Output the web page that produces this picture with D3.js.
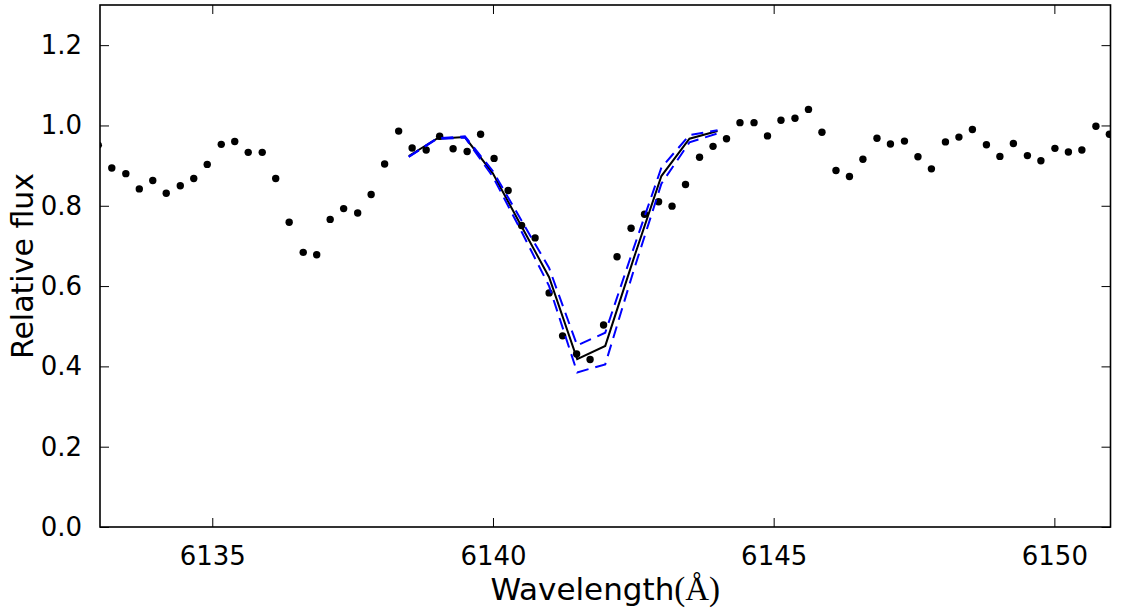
<!DOCTYPE html>
<html>
<head>
<meta charset="utf-8">
<script src="https://cdn.jsdelivr.net/npm/d3@7"></script>
<style>
  body { margin: 0; background: #fff; }
  svg { display: block; font-family: "DejaVu Sans", sans-serif; }
</style>
</head>
<body>
<svg id="chart"></svg>
<script>
// observed spectrum (dots)
const obsWave = [
  6132.97, 6133.21, 6133.46, 6133.70, 6133.94, 6134.18, 6134.43, 6134.67, 6134.91, 6135.16,
  6135.40, 6135.64, 6135.89, 6136.13, 6136.37, 6136.62, 6136.86, 6137.10, 6137.34, 6137.59,
  6137.83, 6138.07, 6138.32, 6138.56, 6138.81, 6139.05, 6139.29, 6139.54, 6139.78, 6140.02,
  6140.27, 6140.51, 6140.75, 6141.00, 6141.24, 6141.49, 6141.73, 6141.97, 6142.21, 6142.46,
  6142.70, 6142.95, 6143.19, 6143.43, 6143.68, 6143.92, 6144.16, 6144.40, 6144.65, 6144.89,
  6145.13, 6145.38, 6145.62, 6145.86, 6146.11, 6146.35, 6146.59, 6146.84, 6147.08, 6147.33,
  6147.57, 6147.81, 6148.06, 6148.30, 6148.54, 6148.79, 6149.03, 6149.27, 6149.52, 6149.76,
  6150.01, 6150.25, 6150.49, 6150.74, 6150.98
];
const obsFlux = [
  0.951, 0.894, 0.880, 0.842, 0.863, 0.831, 0.850, 0.868, 0.903, 0.953,
  0.960, 0.933, 0.933, 0.868, 0.759, 0.684, 0.678, 0.766, 0.793, 0.782,
  0.828, 0.904, 0.986, 0.944, 0.939, 0.973, 0.942, 0.935, 0.978, 0.918,
  0.838, 0.751, 0.720, 0.583, 0.476, 0.431, 0.417, 0.503, 0.673, 0.744,
  0.779, 0.810, 0.799, 0.853, 0.921, 0.948, 0.967, 1.007, 1.007, 0.974,
  1.013, 1.018, 1.040, 0.983, 0.888, 0.873, 0.916, 0.968, 0.954, 0.961,
  0.922, 0.892, 0.959, 0.971, 0.990, 0.952, 0.923, 0.955, 0.925, 0.912,
  0.943, 0.934, 0.939, 0.998, 0.978
];

// synthetic line profiles
const modelWave  = [6138.5, 6139, 6139.5, 6140, 6140.5, 6141, 6141.5, 6142, 6142.5, 6143, 6143.5, 6144];
const modelBest  = [0.924, 0.967, 0.971, 0.880, 0.751, 0.622, 0.418, 0.451, 0.666, 0.874, 0.967, 0.986];
const modelUpper = [0.922, 0.968, 0.973, 0.886, 0.765, 0.645, 0.452, 0.484, 0.692, 0.895, 0.976, 0.988];
const modelLower = [0.922, 0.966, 0.970, 0.872, 0.738, 0.600, 0.385, 0.405, 0.636, 0.855, 0.958, 0.980];

const xTicks = [6135, 6140, 6145, 6150];
const yTicks = [0.0, 0.2, 0.4, 0.6, 0.8, 1.0, 1.2];

const width = 1121, height = 612;
const margin = {top: 5, right: 10.5, bottom: 85, left: 100};

const svg = d3.select('#chart')
  .attr('width', width)
  .attr('height', height);

const x = d3.scaleLinear()
  .domain([6133, 6151])
  .range([margin.left, width - margin.right]);

const y = d3.scaleLinear()
  .domain([0, 1.3])
  .range([height - margin.bottom, margin.top]);

svg.append('clipPath')
  .attr('id', 'plot-clip')
  .append('rect')
    .attr('x', margin.left)
    .attr('y', margin.top)
    .attr('width', x.range()[1] - x.range()[0])
    .attr('height', y.range()[0] - y.range()[1]);

const plot = svg.append('g').attr('clip-path', 'url(#plot-clip)');

plot.selectAll('circle')
  .data(obsWave.map((w, i) => [w, obsFlux[i]]))
  .enter()
  .append('circle')
    .attr('cx', d => x(d[0]))
    .attr('cy', d => y(d[1]))
    .attr('r', 3.7)
    .attr('fill', '#000');

const line = d3.line()
  .x(d => x(d[0]))
  .y(d => y(d[1]));

plot.append('path')
  .datum(modelWave.map((w, i) => [w, modelBest[i]]))
  .attr('d', line)
  .attr('fill', 'none')
  .attr('stroke', '#000')
  .attr('stroke-width', 2);

[modelUpper, modelLower].forEach(series => {
  plot.append('path')
    .datum(modelWave.map((w, i) => [w, series[i]]))
    .attr('d', line)
    .attr('fill', 'none')
    .attr('stroke', '#0000ff')
    .attr('stroke-width', 2)
    .attr('stroke-dasharray', '12,7');
});

// axes: ticks pointing inward on all four sides
const tickLen = 9;
const x0 = x.range()[0], x1 = x.range()[1];
const y0 = y.range()[0], y1 = y.range()[1];

const bottomAxis = svg.append('g')
  .attr('transform', `translate(0,${y0})`)
  .call(d3.axisBottom(x).tickValues(xTicks).tickFormat(d3.format('d'))
    .tickSizeInner(-tickLen).tickSizeOuter(0).tickPadding(tickLen + 10));

const topAxis = svg.append('g')
  .attr('transform', `translate(0,${y1})`)
  .call(d3.axisTop(x).tickValues(xTicks).tickFormat('')
    .tickSizeInner(-tickLen).tickSizeOuter(0));

const leftAxis = svg.append('g')
  .attr('transform', `translate(${x0},0)`)
  .call(d3.axisLeft(y).tickValues(yTicks).tickFormat(d3.format('.1f'))
    .tickSizeInner(-tickLen).tickSizeOuter(0).tickPadding(tickLen + 9));

const rightAxis = svg.append('g')
  .attr('transform', `translate(${x1},0)`)
  .call(d3.axisRight(y).tickValues(yTicks).tickFormat('')
    .tickSizeInner(-tickLen).tickSizeOuter(0));

[bottomAxis, topAxis, leftAxis, rightAxis].forEach(g => {
  g.select('.domain').remove();
  g.selectAll('.tick line').attr('stroke', '#000').attr('stroke-width', 1);
  g.selectAll('.tick text')
    .attr('fill', '#000')
    .style('font-family', '"DejaVu Sans", sans-serif')
    .style('font-size', '26px');
});

bottomAxis.selectAll('.tick text').attr('dy', '0.72em');

// frame
svg.append('rect')
  .attr('x', x0)
  .attr('y', y1)
  .attr('width', x1 - x0)
  .attr('height', y0 - y1)
  .attr('fill', 'none')
  .attr('stroke', '#000')
  .attr('stroke-width', 1.6);

// labels
const xLabel = svg.append('text')
  .attr('x', (x0 + x1) / 2)
  .attr('y', 600)
  .attr('text-anchor', 'middle')
  .style('font-size', '31px')
  .attr('fill', '#000');
xLabel.append('tspan').text('Wavelength');
xLabel.append('tspan')
  .style('font-family', '"Liberation Serif", "DejaVu Serif", serif')
  .style('font-size', '33px')
  .text('(Å)');

svg.append('text')
  .attr('transform', `translate(33,${(y0 + y1) / 2}) rotate(-90)`)
  .attr('text-anchor', 'middle')
  .style('font-size', '30px')
  .attr('fill', '#000')
  .text('Relative flux');
</script>
</body>
</html>
